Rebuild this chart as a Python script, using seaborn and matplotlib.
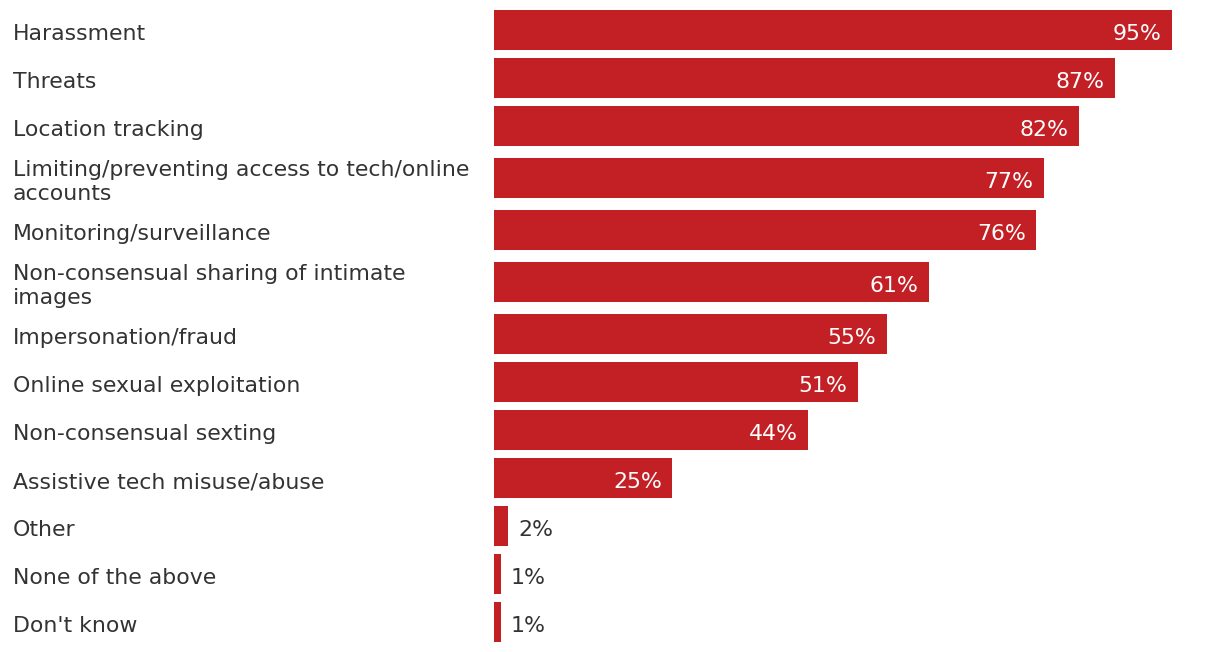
import numpy as np
import pandas as pd
import matplotlib
matplotlib.use("Agg")
import matplotlib.pyplot as plt
import matplotlib.transforms as mtransforms
import seaborn as sns

categories = [
    "Harassment",
    "Threats",
    "Location tracking",
    "Limiting/preventing access to tech/online\naccounts",
    "Monitoring/surveillance",
    "Non-consensual sharing of intimate\nimages",
    "Impersonation/fraud",
    "Online sexual exploitation",
    "Non-consensual sexting",
    "Assistive tech misuse/abuse",
    "Other",
    "None of the above",
    "Don't know",
]
values = [95, 87, 82, 77, 76, 61, 55, 51, 44, 25, 2, 1, 1]
value_labels = [f"{v}%" for v in values]

BAR_COLOR = "#C32026"
TEXT_COLOR = "#333333"
W, H = 1220, 652

sns.set_theme(style="white")
plt.rcParams["font.family"] = ["DejaVu Sans"]

# Layout: row heights in pixels (taller rows for two-line labels)
row_h = [56 if "\n" in c else 48 for c in categories]
edges = 6 + np.concatenate([[0], np.cumsum(row_h)])
centers = (edges[:-1] + edges[1:]) / 2.0

df = pd.DataFrame({"cat": categories, "value": values, "pos": centers})

fig = plt.figure(figsize=(W / 100, H / 100), dpi=100)
x0 = 494 / W
x_per_pct = (1172 - 494) / 95.0
ax = fig.add_axes([x0, 0, 100 * x_per_pct / W, 1])

sns.barplot(data=df, x="value", y="pos", orient="y", native_scale=True,
            color=BAR_COLOR, saturation=1, width=40 / 48, linewidth=0,
            edgecolor=BAR_COLOR, ax=ax)
ax.set_xlim(0, 100)
ax.set_ylim(H, 0)
ax.axis("off")

fs = 15.8
trans = mtransforms.blended_transform_factory(fig.transFigure, ax.transData)
for c, y in zip(categories, centers):
    # baseline of the last line of the label
    yb = y + 22 if "\n" in c else y + 10
    ax.text(13 / W, yb, c, transform=trans, ha="left", va="baseline",
            fontsize=fs, color=TEXT_COLOR, linespacing=1.22)

for v, lab, y in zip(values, value_labels, centers):
    if v >= 10:
        ax.annotate(lab, (v, y + 10), xytext=(-7.6, 0), textcoords="offset points",
                    ha="right", va="baseline", fontsize=fs, color="white")
    else:
        ax.annotate(lab, (v, y + 10), xytext=(7.0, 0), textcoords="offset points",
                    ha="left", va="baseline", fontsize=fs, color=TEXT_COLOR)

fig.savefig("out.png", dpi=100, facecolor="white")
